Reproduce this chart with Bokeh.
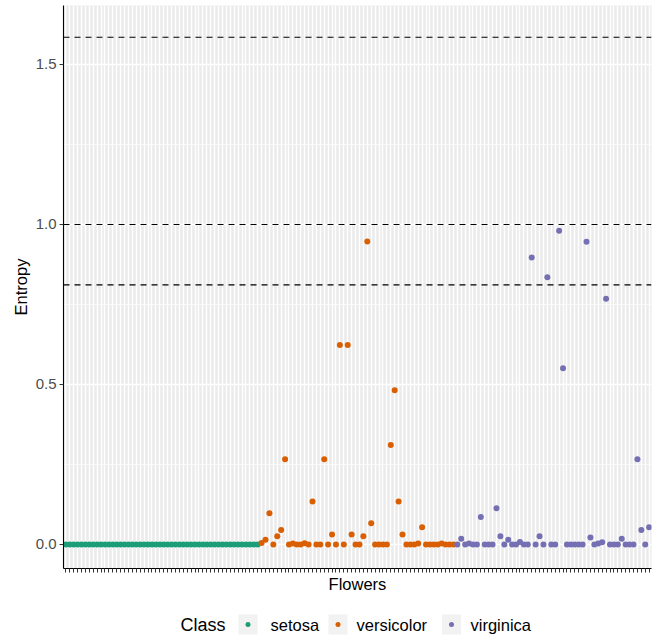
from bokeh.plotting import figure
from bokeh.models import (ColumnDataSource, Range1d, FixedTicker, NumeralTickFormatter, Span,
                          CustomJSTickFormatter)
from bokeh.layouts import column
from bokeh.core.properties import value
from bokeh.embed import file_html
from bokeh.resources import INLINE

FONT = "Liberation Sans"

classes = ["setosa", "versicolor", "virginica"]
colors = ["#1B9E77", "#D95F02", "#7570B3"]

setosa = [0.0, 0.0, 0.0, 0.0, 0.0, 0.0, 0.0, 0.0, 0.0, 0.0,
          0.0, 0.0, 0.0, 0.0, 0.0, 0.0, 0.0, 0.0, 0.0, 0.0,
          0.0, 0.0, 0.0, 0.0, 0.0, 0.0, 0.0, 0.0, 0.0, 0.0,
          0.0, 0.0, 0.0, 0.0, 0.0, 0.0, 0.0, 0.0, 0.0, 0.0,
          0.0, 0.0, 0.0, 0.0, 0.0, 0.0, 0.0, 0.0, 0.0, 0.0]
versicolor = [0.005, 0.015, 0.098, 0.0, 0.026, 0.045, 0.266, 0.0, 0.003, 0.0,
              0.0, 0.004, 0.0, 0.134, 0.0, 0.0, 0.266, 0.0, 0.031, 0.0,
              0.623, 0.0, 0.623, 0.031, 0.0, 0.0, 0.026, 0.947, 0.066, 0.0,
              0.0, 0.0, 0.0, 0.311, 0.482, 0.134, 0.031, 0.0, 0.0, 0.0,
              0.003, 0.054, 0.0, 0.0, 0.0, 0.0, 0.003, 0.0, 0.0, 0.0]
virginica = [0.0, 0.018, 0.0, 0.003, 0.0, 0.0, 0.086, 0.0, 0.0, 0.0,
             0.113, 0.026, 0.0, 0.015, 0.0, 0.0, 0.008, 0.0, 0.0, 0.897,
             0.0, 0.026, 0.0, 0.835, 0.0, 0.0, 0.980, 0.551, 0.0, 0.0,
             0.0, 0.0, 0.0, 0.946, 0.022, 0.0, 0.003, 0.007, 0.768, 0.0,
             0.0, 0.0, 0.018, 0.0, 0.0, 0.0, 0.266, 0.045, 0.0, 0.054]
thresholds = [1.585, 1.0, 0.811]
y_ticks = [0.0, 0.5, 1.0, 1.5]
y_minor = [0.25, 0.75, 1.25]

series = [setosa, versicolor, virginica]
n_total = sum(len(s) for s in series)
flowers = list(range(1, n_total + 1))

FRAME_L, FRAME_R = 63, 651

p = figure(width=657, height=600, output_backend="svg", toolbar_location=None,
           x_range=Range1d(0.4, n_total + 0.6), y_range=Range1d(-0.075, 1.684),
           min_border_left=FRAME_L, min_border_right=657 - FRAME_R,
           min_border_top=5, min_border_bottom=32)
p.background_fill_color = "#EBEBEB"
p.border_fill_color = "white"
p.outline_line_color = None

# axes
p.xaxis.ticker = FixedTicker(ticks=flowers)
p.xaxis.formatter = CustomJSTickFormatter(code="return '';")
p.xaxis.major_label_text_font_size = "2px"
p.xaxis.major_label_standoff = 0
p.xaxis.axis_label = "Flowers"
p.yaxis.ticker = FixedTicker(ticks=y_ticks, minor_ticks=y_minor)
p.yaxis.formatter = NumeralTickFormatter(format="0.0")
p.yaxis.axis_label = "Entropy"
p.yaxis.major_label_text_font_size = "15px"
p.yaxis.major_label_text_color = "#4D4D4D"
p.yaxis.major_label_standoff = 3
for ax in (p.xaxis, p.yaxis):
    ax.axis_line_color = "black"
    ax.axis_line_width = 1.1
    ax.major_tick_line_color = "#333333"
    ax.major_tick_out = 4
    ax.major_tick_in = 0
    ax.minor_tick_line_color = None
    ax.axis_label_text_font = FONT
    ax.axis_label_text_font_style = "normal"
    ax.axis_label_text_font_size = "16.5px"
    ax.axis_label_text_color = "black"
    ax.major_label_text_font = FONT
p.xaxis.axis_label_standoff = 2
p.yaxis.axis_label_standoff = 3

# grids
p.xgrid.ticker = FixedTicker(ticks=flowers)
p.xgrid.grid_line_color = "white"
p.xgrid.grid_line_width = 1.4
p.ygrid.ticker = FixedTicker(ticks=y_ticks, minor_ticks=y_minor)
p.ygrid.grid_line_color = "white"
p.ygrid.grid_line_width = 1.4
p.ygrid.minor_grid_line_color = "white"
p.ygrid.minor_grid_line_width = 0.7

for t in thresholds:
    p.add_layout(Span(location=t, dimension="width", line_color="black",
                      line_width=1.1, line_dash="6 5"))

start = 1
for name, vals, col in zip(classes, series, colors):
    xs = list(range(start, start + len(vals)))
    start += len(vals)
    src = ColumnDataSource(dict(x=xs, y=vals))
    p.scatter("x", "y", source=src, size=6, color=col, line_color=None)

# legend (manual, horizontal with title on the left); frame aligned with main frame
lg = figure(width=657, height=36, output_backend="svg", toolbar_location=None,
            x_range=Range1d(FRAME_L, FRAME_R), y_range=Range1d(0, 36),
            min_border_left=FRAME_L, min_border_right=657 - FRAME_R,
            min_border_top=0, min_border_bottom=0)
lg.axis.visible = False
lg.grid.visible = False
lg.outline_line_color = None
lg.background_fill_color = "white"

key_x = [247.5, 337.5, 451.0]
label_x = [270, 356, 470]
cy = 12
lg.text(x=[180], y=[cy], text=["Class"], text_font=value(FONT), text_font_size="18px",
        text_baseline="middle", text_align="left", text_color="black")
lg.rect(x=key_x, y=[cy] * 3, width=19, height=20, fill_color="#F2F2F2", line_color=None)
lg.scatter(x=key_x, y=[cy] * 3, size=5, color=colors, line_color=None)
lg.text(x=label_x, y=[cy] * 3, text=classes, text_font=value(FONT), text_font_size="16.5px",
        text_baseline="middle", text_align="left", text_color="black")

layout = column(p, lg, spacing=0)
open("out.html", "w").write(file_html(layout, INLINE))
